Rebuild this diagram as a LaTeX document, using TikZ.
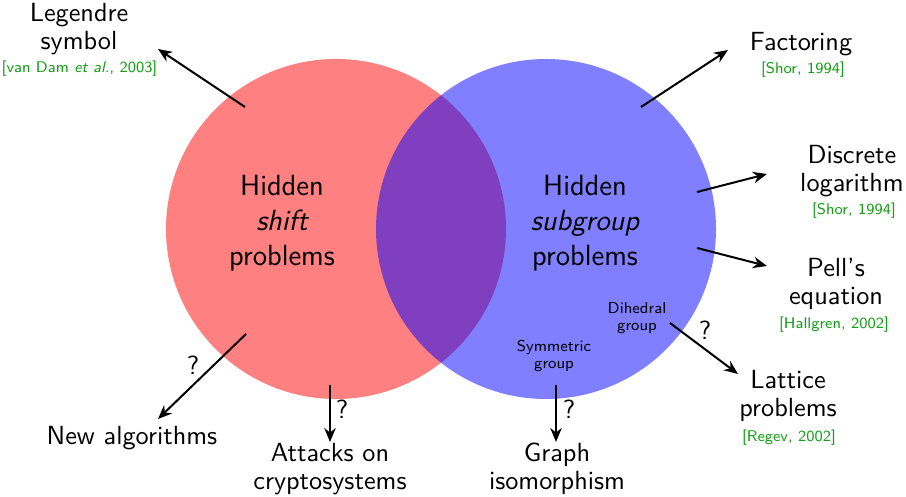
\documentclass[tikz,border=0pt]{standalone}
\usepackage{fontspec}
\usetikzlibrary{arrows.meta}
\definecolor{citegreen}{RGB}{20,160,20}
\begin{document}
\begin{tikzpicture}[x=0.4pt,y=-0.4pt,
  big/.style={font=\sffamily\fontsize{11.7}{14}\selectfont, align=center, anchor=base, inner sep=0pt},
  lbl/.style={font=\sffamily\fontsize{10.5}{11.4}\selectfont, align=center, anchor=base, inner sep=0pt},
  cite/.style={font=\sffamily\fontsize{6.2}{7.5}\selectfont, text=citegreen, anchor=base, inner sep=0pt},
  small/.style={font=\sffamily\fontsize{6.3}{6.8}\selectfont, align=center, anchor=base, inner sep=0pt},
  qmark/.style={font=\sffamily\fontsize{10.5}{12}\selectfont, inner sep=0pt},
  arr/.style={-{Stealth[length=5.6pt,width=4.6pt]}, line width=0.8pt}]
\useasboundingbox (0,0) rectangle (906,497);
% sets
\node[circle, minimum size=136pt, inner sep=0pt, fill=red!50] (shiftset) at (336,229) {};
\node[circle, minimum size=136pt, inner sep=0pt, fill=blue, fill opacity=0.5] (subgroupset) at (546,229) {};
% set labels (anchor base = baseline of last line)
\node[big] (hs) at (282,266) {Hidden\\{\itshape shift}\\problems};
\node[big] (hsg) at (585,266) {Hidden\\{\itshape subgroup}\\problems};
\node[small] (dih) at (637,331) {Dihedral\\group};
\node[small] (sym) at (554,369) {Symmetric\\group};
% outer labels
\node[lbl] (leg) at (79,50) {Legendre\\symbol};
\node[cite] (legc) at (79.5,73) {[van Dam {\itshape et al.}, 2003]};
\node[lbl] (fac) at (801,51) {Factoring};
\node[cite] (facc) at (803,74) {[Shor, 1994]};
\node[lbl] (dlog) at (852,192) {Discrete\\logarithm};
\node[cite] (dlogc) at (854,215) {[Shor, 1994]};
\node[lbl] (pell) at (836,305) {Pell's\\equation};
\node[cite] (pellc) at (834,329) {[Hallgren, 2002]};
\node[lbl] (lat) at (788,417) {Lattice\\problems};
\node[cite] (latc) at (789,442) {[Regev, 2002]};
\node[lbl] (newalg) at (132,445) {New algorithms};
\node[lbl] (att) at (330,490) {Attacks on\\cryptosystems};
\node[lbl] (gi) at (557,490) {Graph\\isomorphism};
% arrow ends
\coordinate (legs) at (245,107);  \coordinate (lege) at (158,49);
\coordinate (facs) at (641,107);  \coordinate (face) at (728,50);
\coordinate (dlogs) at (697,192); \coordinate (dloge) at (767,174);
\coordinate (pells) at (697,248); \coordinate (pelle) at (767,266);
\coordinate (lats) at (670,323);  \coordinate (late) at (738,374);
\coordinate (news) at (246,334);  \coordinate (newe) at (158,419);
\coordinate (atts) at (330,385);  \coordinate (atte) at (330,442);
\coordinate (gis) at (556,385);   \coordinate (gie) at (556,442);
\draw[arr] (legs) -- (lege);
\draw[arr] (facs) -- (face);
\draw[arr] (dlogs) -- (dloge);
\draw[arr] (pells) -- (pelle);
\draw[arr] (lats) -- (late);
\draw[arr] (news) -- (newe);
\draw[arr] (atts) -- (atte);
\draw[arr] (gis) -- (gie);
% question marks
\node[qmark] (q1) at (705,330) {?};
\node[qmark] (q2) at (193,365) {?};
\node[qmark] (q3) at (342,409) {?};
\node[qmark] (q4) at (569,409) {?};
\end{tikzpicture}
\end{document}
